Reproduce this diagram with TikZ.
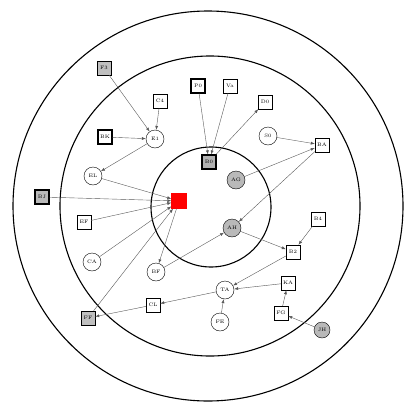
\documentclass[tikz,border=0pt]{standalone}
\usepackage{xcolor}
\usepackage{tikz}
\usetikzlibrary{arrows.meta, positioning}

\begin{document}
\begin{tikzpicture}[
    x=1pt, y=-1pt,
    sq/.style={draw, rectangle, minimum size=14pt, inner sep=0pt, font=\tiny},
    sqbold/.style={sq, line width=1.2pt},
    sqgray/.style={sq, fill=gray!50},
    rnd/.style={draw, circle, minimum size=18pt, inner sep=0pt, font=\tiny},
    rndgray/.style={rnd, fill=gray!55},
    ring/.style={line width=1.1pt},
    arrow/.style={-{Latex[length=4pt, width=3pt]}, gray!70!black, thin}
]
\useasboundingbox (0,0) rectangle (405,407);

% ====================== RINGS ======================
\draw[ring] (208,206) circle (195);
\draw[ring] (210,206) circle (150);
\draw[ring] (211,207) circle (60);

% ====================== OUTER RING ======================
\node[sqgray] (f3) at (104,68)  {F3};
\node[sqbold, fill=gray!55] (bj) at (42,197)  {BJ};
\node[sqgray] (ff) at (88,318)  {FF};
\node[rndgray, minimum size=16pt] (jh) at (322,330) {JH};

% ====================== MIDDLE RING ======================
\node[sq]     (c4) at (160,101) {C4};
\node[sqbold] (bk) at (105,137) {BK};
\node[rnd]    (e1) at (155,139) {E1};
\node[sqbold] (p0) at (198,86)  {P0};
\node[sq]     (va) at (230,86)  {Va};
\node[sq]     (d0) at (265,102) {D0};
\node[rnd]    (s0) at (268,136) {S0};
\node[sq]     (ba) at (322,145) {BA};
\node[rnd]    (el) at (93,176)  {EL};
\node[sq]     (ef) at (84,222)  {EF};
\node[rnd]    (ca) at (92,262)  {CA};
\node[sq]     (b4) at (318,219) {B4};
\node[sq]     (b2) at (293,252) {B2};
\node[sq]     (ka) at (288,283) {KA};
\node[rnd]    (ta) at (225,290) {TA};
\node[sq]     (fg) at (281,313) {FG};
\node[rnd]    (fe) at (220,322) {FE};
\node[sq]     (cl) at (153,305) {CL};
\node[rnd]    (bf) at (156,272) {BF};

% ====================== INNER RING ======================
\node[sqbold, fill=gray!60] (b0) at (209,162) {B0};
\node[rndgray] (ag) at (236,180) {AG};
\node[rndgray] (ah) at (232,228) {AH};
\node[draw=red, fill=red, rectangle, minimum size=15pt] (core) at (179,201) {};

% ====================== ARROWS ======================
\draw[arrow] (f3) -- (e1);
\draw[arrow] (c4) -- (e1);
\draw[arrow] (bk) -- (e1);
\draw[arrow] (e1) -- (el);
\draw[arrow] (el) -- (core);
\draw[arrow] (bj) -- (core);
\draw[arrow] (ef) -- (core);
\draw[arrow] (ca) -- (core);
\draw[arrow] (ff) -- (core);
\draw[arrow] (core) -- (bf);
\draw[arrow] (bf) -- (ah);
\draw[arrow] (p0) -- (b0);
\draw[arrow] (va) -- (b0);
\draw[arrow] (b0) -- (d0);
\draw[arrow] (s0) -- (ba);
\draw[arrow] (ag) -- (ba);
\draw[arrow] (ba) -- (ah);
\draw[arrow] (ah) -- (b2);
\draw[arrow] (b4) -- (b2);
\draw[arrow] (b2) -- (ta);
\draw[arrow] (ka) -- (ta);
\draw[arrow] (fg) -- (ka);
\draw[arrow] (jh) -- (fg);
\draw[arrow] (fe) -- (ta);
\draw[arrow] (ta) -- (cl);
\draw[arrow] (cl) -- (ff);

\end{tikzpicture}
\end{document}
